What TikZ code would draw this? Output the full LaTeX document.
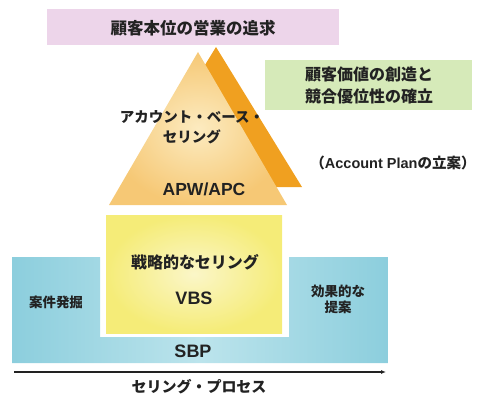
\documentclass[tikz,border=0pt]{standalone}
\usepackage{fontspec}
\newfontfamily\jp{Noto Sans CJK JP}
\newfontfamily\lat{Liberation Sans}
\usetikzlibrary{arrows.meta}
\definecolor{pinkbox}{HTML}{EDD5EA}
\definecolor{greenbox}{HTML}{D6EAB9}
\definecolor{darkor}{HTML}{F0A020}
\definecolor{triout}{HTML}{F6C875}
\definecolor{triin}{HTML}{FCEBC0}
\definecolor{yelout}{HTML}{F5EC78}
\definecolor{yelin}{HTML}{FBF6C8}
\definecolor{blueout}{HTML}{8CCEDD}
\definecolor{bluein}{HTML}{BCE4EC}
\definecolor{txt}{HTML}{222222}
\tikzset{
  lbl/.style={inner sep=0pt, text=txt, align=center, font=\jp\bfseries},
}
\begin{document}
\begin{tikzpicture}[x=1pt,y=-1pt]
\useasboundingbox (0,0) rectangle (480,396);
% top boxes
\fill[pinkbox] (47,9) rectangle (339,45);
\node[lbl, font=\jp\bfseries\fontsize{16.5}{18}\selectfont] (goal) at (193,28) {顧客本位の営業の追求};
\fill[greenbox] (265,60) rectangle (472,110);
\node[lbl, font=\jp\bfseries\fontsize{16}{22}\selectfont] (value) at (369,85) {顧客価値の創造と\\競合優位性の確立};
% triangles
\fill[darkor] (216,47) -- (302,187) -- (130,187) -- cycle;
\shade[inner color=triin, outer color=triout] (198,52) -- (287,205) -- (109,205) -- cycle;
\node[lbl, font=\jp\bfseries\fontsize{14.5}{20}\selectfont] (abs) at (192,127) {アカウント・ベース・\\セリング};
\node[lbl, font=\lat\bfseries\fontsize{17.5}{20}\selectfont] (apw) at (204,189) {APW/APC};
\node[lbl, font=\jp\bfseries\fontsize{14.5}{16}\selectfont] (plan) at (393,163) {（{\lat\bfseries Account Plan}の立案）};
% blue U shape
\shade[left color=blueout, right color=blueout, middle color=bluein]
  (12,257) -- (100,257) -- (100,337) -- (289,337) -- (289,257) -- (388,257) -- (388,363) -- (12,363) -- cycle;
% yellow box
\shade[inner color=yelin, outer color=yelout] (106,215) rectangle (282,333);
\node[lbl, font=\jp\bfseries\fontsize{16}{18}\selectfont] (strat) at (195,262) {戦略的なセリング};
\node[lbl, font=\lat\bfseries\fontsize{18}{20}\selectfont] (vbs) at (194,298) {VBS};
\node[lbl, font=\lat\bfseries\fontsize{18}{20}\selectfont] (sbp) at (193,351) {SBP};
\node[lbl, font=\jp\bfseries\fontsize{13.5}{16}\selectfont] (find) at (56,302) {案件発掘};
\node[lbl, font=\jp\bfseries\fontsize{13.5}{16}\selectfont] (prop) at (338,299) {効果的な\\提案};
% arrow
\coordinate (as) at (14,372);
\coordinate (ae) at (386,372);
\draw[txt, line width=1.2pt, -{Latex[length=5pt,width=4pt]}] (as) -- (ae);
\node[lbl, font=\jp\bfseries\fontsize{15}{18}\selectfont] (proc) at (199,387) {セリング・プロセス};
\end{tikzpicture}
\end{document}
